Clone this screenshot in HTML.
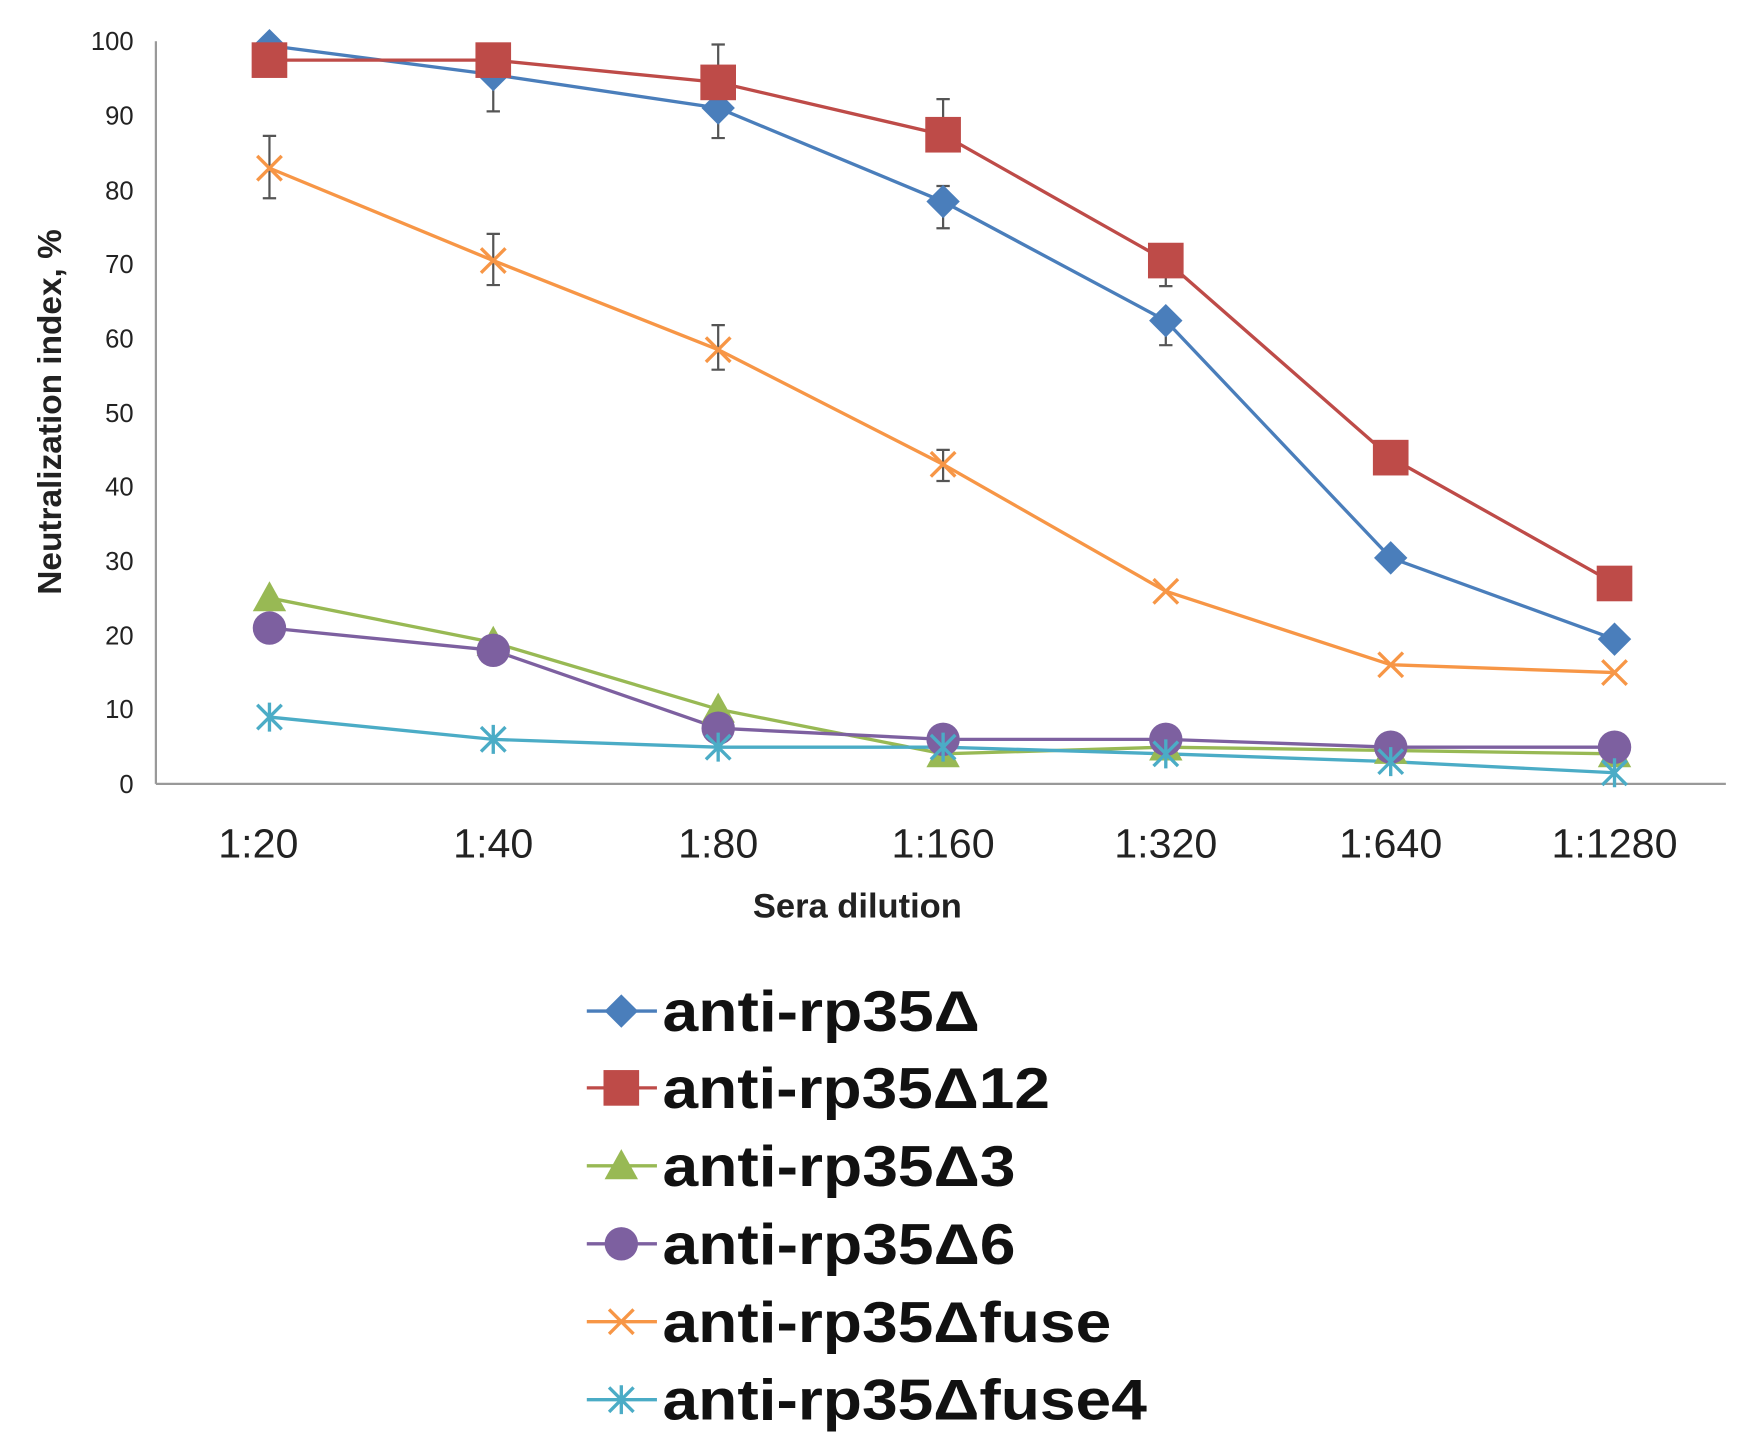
<!DOCTYPE html><html><head><style>body{margin:0;background:#fff}svg{display:block}</style></head><body>
<svg width="1737" height="1452" viewBox="0 0 1560 1304" preserveAspectRatio="none" xmlns="http://www.w3.org/2000/svg" font-family="Liberation Sans, sans-serif">
<g stroke="#999" stroke-width="2" fill="none"><line x1="140" y1="37" x2="140" y2="704"/><line x1="140" y1="704" x2="1550" y2="704"/></g>
<g font-size="23" fill="#222" text-anchor="end">
<text x="120" y="712">0</text><text x="120" y="645">10</text><text x="120" y="579">20</text><text x="120" y="512">30</text><text x="120" y="445">40</text><text x="120" y="379">50</text><text x="120" y="312">60</text><text x="120" y="245">70</text><text x="120" y="179">80</text><text x="120" y="112">90</text><text x="120" y="45">100</text></g>
<g font-size="37" fill="#222" text-anchor="middle">
<text x="232" y="770">1:20</text><text x="443" y="770">1:40</text><text x="645" y="770">1:80</text><text x="847" y="770">1:160</text><text x="1047" y="770">1:320</text><text x="1249" y="770">1:640</text><text x="1450" y="770">1:1280</text></g>
<text x="770" y="824" font-size="31" font-weight="bold" text-anchor="middle" fill="#222">Sera dilution</text>
<text transform="translate(55,370) rotate(-90)" font-size="30" font-weight="bold" text-anchor="middle" fill="#222">Neutralization index, %</text>
<g stroke="#555" stroke-width="2">
<path d="M242 64v-30M236 64h12M236 34h12M443 100v-30M437 100h12M437 70h12M645 124v-28M639 124h12M639 96h12M847 205v-38M841 205h12M841 167h12M1047 310v-30M1041 310h12M1041 280h12M1047 257v-28M1041 257h12M1041 229h12M847 133v-44M841 133h12M841 89h12M645 40v40M639 40h12"/>
<path d="M242 178v-56M236 178h12M236 122h12M443 256v-46M437 256h12M437 210h12M645 332v-40M639 332h12M639 292h12M847 432v-28M841 432h12M841 404h12"/>
</g>
<g fill="none" stroke-width="3">
<polyline stroke="#4a7ebb" points="242,41 443,67 645,97 847,181 1047,288 1249,501 1450,574"/>
<polyline stroke="#be4b48" points="242,54 443,54 645,74 847,121 1047,234 1249,411 1450,524"/>
<polyline stroke="#98b954" points="242,537 443,577 645,637 847,677 1047,671 1249,674 1450,677"/>
<polyline stroke="#7d60a0" points="242,564 443,584 645,654 847,664 1047,664 1249,671 1450,671"/>
<polyline stroke="#f79646" points="242,151 443,234 645,314 847,417 1047,531 1249,597 1450,604"/>
<polyline stroke="#4bacc6" points="242,644 443,664 645,671 847,671 1047,677 1249,684 1450,694"/>
</g>
<defs>
<path id="d" d="M0-15L15 0 0 15-15 0Z" fill="#4a7ebb"/>
<rect id="s" x="-16" y="-16" width="32" height="32" fill="#be4b48"/>
<path id="t" d="M0-15L15 12-15 12Z" fill="#98b954"/>
<circle id="c" r="15" fill="#7d60a0"/>
<path id="x" d="M-11-11L11 11M-11 11L11-11" stroke="#f79646" stroke-width="3"/>
<path id="a" d="M-11-11L11 11M-11 11L11-11M0-13V13" stroke="#4bacc6" stroke-width="3"/>
</defs>
<g>
<use href="#t" x="242" y="537"/><use href="#t" x="443" y="577"/><use href="#t" x="645" y="637"/><use href="#t" x="847" y="677"/><use href="#t" x="1047" y="671"/><use href="#t" x="1249" y="674"/><use href="#t" x="1450" y="677"/>
<use href="#c" x="242" y="564"/><use href="#c" x="443" y="584"/><use href="#c" x="645" y="654"/><use href="#c" x="847" y="664"/><use href="#c" x="1047" y="664"/><use href="#c" x="1249" y="671"/><use href="#c" x="1450" y="671"/>
<use href="#a" x="242" y="644"/><use href="#a" x="443" y="664"/><use href="#a" x="645" y="671"/><use href="#a" x="847" y="671"/><use href="#a" x="1047" y="677"/><use href="#a" x="1249" y="684"/><use href="#a" x="1450" y="694"/>
<use href="#x" x="242" y="151"/><use href="#x" x="443" y="234"/><use href="#x" x="645" y="314"/><use href="#x" x="847" y="417"/><use href="#x" x="1047" y="531"/><use href="#x" x="1249" y="597"/><use href="#x" x="1450" y="604"/>
<use href="#d" x="242" y="41"/><use href="#d" x="443" y="67"/><use href="#d" x="645" y="97"/><use href="#d" x="847" y="181"/><use href="#d" x="1047" y="288"/><use href="#d" x="1249" y="501"/><use href="#d" x="1450" y="574"/>
<use href="#s" x="242" y="54"/><use href="#s" x="443" y="54"/><use href="#s" x="645" y="74"/><use href="#s" x="847" y="121"/><use href="#s" x="1047" y="234"/><use href="#s" x="1249" y="411"/><use href="#s" x="1450" y="524"/>
</g>
<g stroke-width="3">
<line x1="527" y1="908" x2="590" y2="908" stroke="#4a7ebb"/><use href="#d" x="558" y="908"/>
<line x1="527" y1="977" x2="590" y2="977" stroke="#be4b48"/><use href="#s" x="558" y="977"/>
<line x1="527" y1="1047" x2="590" y2="1047" stroke="#98b954"/><use href="#t" x="558" y="1047"/>
<line x1="527" y1="1117" x2="590" y2="1117" stroke="#7d60a0"/><use href="#c" x="558" y="1117"/>
<line x1="527" y1="1187" x2="590" y2="1187" stroke="#f79646"/><use href="#x" x="558" y="1187"/>
<line x1="527" y1="1257" x2="590" y2="1257" stroke="#4bacc6"/><use href="#a" x="558" y="1257"/>
</g>
<g font-size="52" font-weight="bold" fill="#111" lengthAdjust="spacingAndGlyphs">
<text x="595" y="926" textLength="285" lengthAdjust="spacingAndGlyphs">anti-rp35Δ</text><text x="595" y="995" textLength="348" lengthAdjust="spacingAndGlyphs">anti-rp35Δ12</text><text x="595" y="1065" textLength="317" lengthAdjust="spacingAndGlyphs">anti-rp35Δ3</text><text x="595" y="1135" textLength="317" lengthAdjust="spacingAndGlyphs">anti-rp35Δ6</text><text x="595" y="1205" textLength="403" lengthAdjust="spacingAndGlyphs">anti-rp35Δfuse</text><text x="595" y="1275" textLength="435" lengthAdjust="spacingAndGlyphs">anti-rp35Δfuse4</text>
</g>
</svg></body></html>
